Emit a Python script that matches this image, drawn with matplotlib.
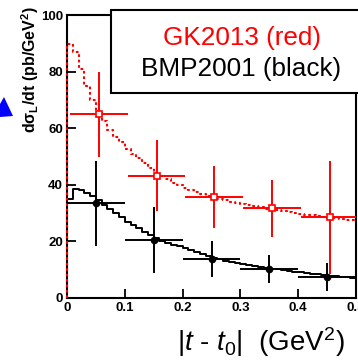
import numpy as np
import matplotlib
matplotlib.use("Agg")
import matplotlib.pyplot as plt
from matplotlib.patches import Rectangle, Polygon

plt.rcParams['font.family'] = ['Liberation Sans', 'DejaVu Sans']
plt.rcParams['mathtext.fontset'] = 'custom'
plt.rcParams['mathtext.rm'] = 'Liberation Sans'
plt.rcParams['mathtext.it'] = 'Liberation Sans:italic'
plt.rcParams['mathtext.bf'] = 'Liberation Sans:bold'

# ---- data ----
bin_edges = np.round(np.arange(0, 0.5001, 0.01), 3)

# GK2013 model curve (red, dotted histogram)
gk_curve = [89.7, 87.0, 81.0, 75.0, 70.0, 65.5, 62.5, 59.5, 57.0, 55.0,
            52.8, 51.0, 49.3, 47.6, 45.8, 44.2, 43.0, 41.9, 40.8, 39.8,
            38.9, 38.1, 37.4, 36.7, 36.1, 35.5, 35.0, 34.5, 34.0, 33.6,
            33.2, 32.8, 32.4, 32.0, 31.6, 31.3, 31.0, 30.6, 30.3, 30.0,
            29.7, 29.4, 29.2, 28.9, 28.7, 28.4, 28.2, 27.9, 27.7, 27.5]

# BMP2001 model curve (black, solid histogram)
bmp_curve = [35.0, 38.5, 38.0, 37.0, 36.0, 34.5, 33.0, 31.5, 30.0, 28.5,
             27.0, 25.8, 24.6, 23.4, 22.3, 21.2, 20.3, 19.5, 18.8, 18.2,
             17.6, 16.8, 16.1, 15.4, 14.8, 14.2, 13.7, 13.2, 12.8, 12.4,
             12.0, 11.6, 11.3, 11.0, 10.7, 10.4, 10.1, 9.8, 9.6, 9.3,
             9.1, 8.8, 8.6, 8.4, 8.1, 7.9, 7.7, 7.5, 7.3, 7.1]

# projected measurements with the GK2013 model
gk_t = [0.055, 0.155, 0.255, 0.355, 0.455]
gk_val = [65.0, 43.2, 35.8, 31.7, 28.5]
gk_err = [15.0, 12.5, 11.0, 10.0, 20.0]

# projected measurements with the BMP2001 model
bmp_t = [0.05, 0.15, 0.25, 0.35, 0.45]
bmp_val = [33.5, 20.5, 13.8, 10.2, 7.5]
bmp_err = [15.0, 11.7, 6.3, 5.0, 5.0]

t_halfwidth = 0.05

x_ticks = [0, 0.1, 0.2, 0.3, 0.4, 0.5]
x_ticklabels = ['0', '0.1', '0.2', '0.3', '0.4', '0.5']
y_ticks = [0, 20, 40, 60, 80, 100]
y_ticklabels = ['0', '20', '40', '60', '80', '100']

# ---- figure ----
W, H = 358, 361
fig = plt.figure(figsize=(W / 100, H / 100), dpi=100)
ax = fig.add_axes([67 / W, 1 - 298 / H, (356 - 67) / W, (298 - 15) / H])
ax.set_xlim(0, 0.5)
ax.set_ylim(0, 100)

def step_path(edges, vals):
    xs = np.r_[edges[0], edges]
    ys = np.r_[0, vals, vals[-1]]
    return xs, ys

xs, ys = step_path(bin_edges, bmp_curve)
ax.step(xs, ys, where='post', color='black', lw=1.4, zorder=3, clip_on=False)
xs, ys = step_path(bin_edges, gk_curve)
ax.step(xs, ys, where='post', color='#ff0000', lw=1.5, ls=(0, (1.3, 1.3)),
        zorder=4, clip_on=False)

ax.errorbar(bmp_t, bmp_val, xerr=t_halfwidth, yerr=bmp_err, fmt='o',
            color='black', ms=4.5, elinewidth=1.4, capsize=0, zorder=5)
ax.errorbar(gk_t, gk_val, xerr=t_halfwidth, yerr=gk_err, fmt='s',
            color='#ff0000', mfc='white', mec='#ff0000', mew=1.2, ms=5,
            elinewidth=1.4, capsize=0, zorder=6)

for s in ax.spines.values():
    s.set_linewidth(1.5)
    s.set_color('black')

ax.set_xticks(x_ticks)
ax.set_xticklabels(x_ticklabels)
ax.set_yticks(y_ticks)
ax.set_yticklabels(y_ticklabels)
ax.tick_params(direction='in', length=6.5, width=1.3, labelsize=9.5, pad=3)
for lab in ax.get_xticklabels() + ax.get_yticklabels():
    lab.set_fontweight('bold')

fig.text(30 / W, 1 - 70 / H,
         r'd$\mathbf{\sigma_L}$/dt (pb/GeV$^\mathbf{2}$)',
         rotation=90, ha='center', va='center', fontsize=11.5,
         fontweight='bold')

fig.text(261 / W, 1 - 351 / H, r'$|t$ - $t_{\mathit{0}}|$  (GeV$^2$)',
         ha='center', va='baseline', fontsize=20)

# model legend box
box = Rectangle((111 / W, 1 - 93 / H), (420 - 111) / W, (93 - 10) / H,
                transform=fig.transFigure, facecolor='white',
                edgecolor='black', lw=1.5, zorder=10)
fig.add_artist(box)
fig.text(242 / W, 1 - 45 / H, 'GK2013 (red)', color='#ff0000',
         ha='center', va='baseline', fontsize=18.8, zorder=11)
fig.text(241 / W, 1 - 76 / H, 'BMP2001 (black)', color='black',
         ha='center', va='baseline', fontsize=18.8, zorder=11)

# arrow head on the left margin
pts = [(0, 104), (4, 97), (13, 116), (0, 117)]
arrow = Polygon([(x / W, 1 - y / H) for x, y in pts], closed=True,
                transform=fig.transFigure, facecolor='#0000ff',
                edgecolor='none', zorder=10)
fig.add_artist(arrow)

fig.savefig('out.png', dpi=100)
